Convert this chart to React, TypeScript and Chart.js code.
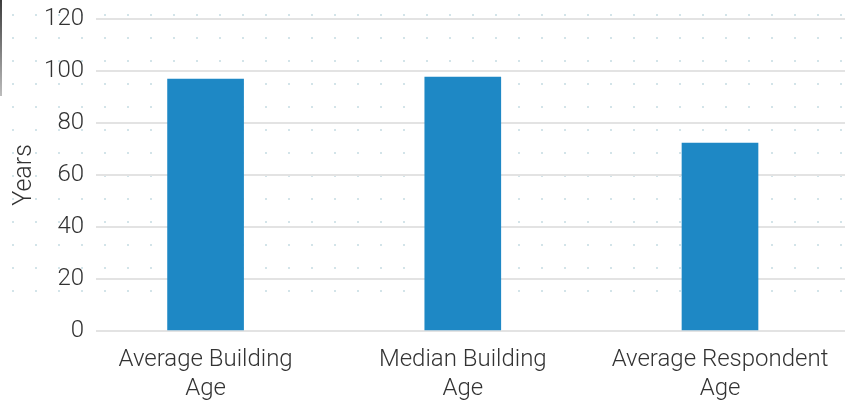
import React, { useEffect, useRef } from "react";
import { Chart, registerables } from "chart.js";

Chart.register(...registerables);

const categories: string[][] = [
  ["Average Building", "Age"],
  ["Median Building", "Age"],
  ["Average Respondent", "Age"],
];
const yearsValues: number[] = [96.9, 97.7, 72.3];
const yTicks = { min: 0, max: 120, step: 20 };
const yTitle = "Years";

const dotPlugin = {
  id: "dotGrid",
  beforeDraw(chart: any) {
    const ctx = chart.ctx;
    ctx.save();
    ctx.fillStyle = "#d3e4e9";
    for (let y = 15; y <= 292; y += 23) {
      for (let x = 13; x <= 845; x += 23) {
        ctx.fillRect(x - 1, y - 1, 2, 2);
      }
    }
    ctx.restore();
  },
};

export default function App() {
  const ref = useRef<HTMLCanvasElement | null>(null);
  useEffect(() => {
    if (!ref.current) return;
    const font = { family: "Roboto", size: 24, weight: "300" as any };
    const chart = new Chart(ref.current, {
      type: "bar",
      data: {
        datasets: [
          {
            label: yTitle,
            data: yearsValues.map((v, i) => ({ x: i, y: v })),
            backgroundColor: "#1e88c5",
            barThickness: 76,
          },
        ],
      },
      options: {
        responsive: false,
        animation: false,
        devicePixelRatio: 1,
        layout: { padding: { top: 19, right: 0, left: 0, bottom: 0 } },
        plugins: { legend: { display: false }, tooltip: { enabled: false } },
        scales: {
          x: {
            type: "linear",
            offset: false,
            min: -0.426,
            max: 2.486,
            grid: { display: false, offset: false },
            border: { display: false },
            afterBuildTicks: (scale: any) => {
              scale.ticks = categories.map((_, i) => ({ value: i }));
            },
            afterFit: (scale: any) => {
              scale.height = 77;
              scale.paddingLeft = 0;
              scale.paddingRight = 0;
            },
            ticks: {
              autoSkip: false,
              maxRotation: 0,
              color: "#333333",
              font,
              padding: 7,
              callback: (v: any) => categories[v as number] ?? "",
            },
          },
          y: {
            min: yTicks.min,
            max: yTicks.max,
            afterFit: (scale: any) => {
              scale.width = 96;
              scale.paddingTop = 0;
              scale.paddingBottom = 0;
            },
            grid: { color: "#e3e3e3", lineWidth: 2, drawTicks: false },
            border: { display: false },
            ticks: { stepSize: yTicks.step, color: "#333333", font, padding: 12 },
            title: {
              display: true,
              text: yTitle,
              color: "#333333",
              font: { family: "Roboto", size: 25, weight: "300" as any },
              padding: { top: 10, bottom: 0 },
            },
          },
        },
      },
      plugins: [dotPlugin],
    });
    return () => chart.destroy();
  }, []);
  return (
    <div style={{ position: "fixed", left: 0, top: 0, width: 845, height: 408, background: "#fff" }}>
      <canvas ref={ref} width={845} height={408} style={{ display: "block" }} />
      <div
        style={{
          position: "absolute",
          left: 0,
          top: 0,
          width: 2,
          height: 96,
          background: "linear-gradient(#3c3c3c, #bdbdbd)",
        }}
      />
    </div>
  );
}
